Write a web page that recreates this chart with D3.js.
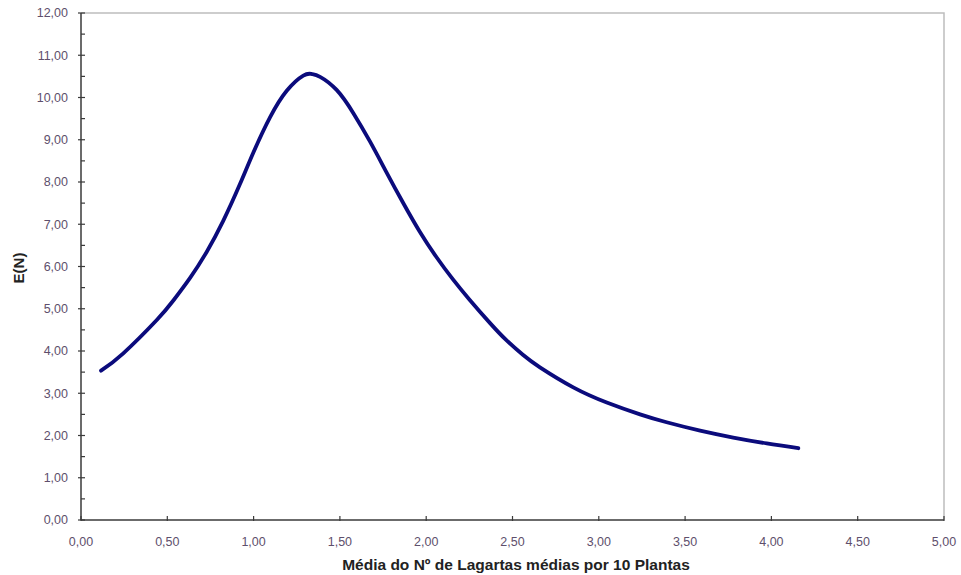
<!DOCTYPE html>
<html>
<head>
<meta charset="utf-8">
<script src="https://cdn.jsdelivr.net/npm/d3@7"></script>
<style>
  html, body { margin: 0; padding: 0; background: #fff; }
  svg { display: block; }
</style>
</head>
<body>
<svg id="chart" width="961" height="575"></svg>
<script>
// Data
const xValues = [0.116, 0.245, 0.439, 0.535, 0.632, 0.728, 0.824, 0.921, 1.000, 1.095, 1.192, 1.288, 1.337, 1.385, 1.481, 1.578, 1.674, 1.770, 1.866, 1.962, 2.058, 2.154, 2.250, 2.370, 2.466, 2.560, 2.659, 2.852, 3.046, 3.239, 3.393, 3.587, 3.779, 3.973, 4.156];
const yValues = [3.534, 3.946, 4.734, 5.195, 5.730, 6.345, 7.080, 7.950, 8.710, 9.530, 10.160, 10.520, 10.556, 10.490, 10.180, 9.630, 8.960, 8.230, 7.510, 6.830, 6.230, 5.700, 5.220, 4.660, 4.250, 3.910, 3.613, 3.140, 2.781, 2.501, 2.313, 2.115, 1.952, 1.812, 1.699];
const xTicks = [0, 0.5, 1, 1.5, 2, 2.5, 3, 3.5, 4, 4.5, 5];
const yTicks = [0, 1, 2, 3, 4, 5, 6, 7, 8, 9, 10, 11, 12];
const yMinorTicks = [0.5, 1.5, 2.5, 3.5, 4.5, 5.5, 6.5, 7.5, 8.5, 9.5, 10.5, 11.5];
const xTitle = "Média do Nº de Lagartas médias por 10 Plantas";
const yTitle = "E(N)";

(function () {
const svg = d3.select("#chart");
const mLeft = 81, mRight = 944, mTop = 13, mBottom = 520;

const x = d3.scaleLinear().domain([0, 5]).range([mLeft, mRight]);
const y = d3.scaleLinear().domain([0, 12]).range([mBottom, mTop]);
const fmt = v => v.toFixed(2).replace(".", ",");
const font = "Liberation Sans, Arial, sans-serif";

// top & right border (light gray)
svg.append("path")
  .attr("d", `M${mLeft},${mTop}H${mRight}V${mBottom}`)
  .attr("fill", "none").attr("stroke", "#bdbdbd").attr("stroke-width", 1.5);

// Y axis
const yAxis = svg.append("g").attr("transform", `translate(${mLeft},0)`);
yAxis.append("line").attr("x1", 0).attr("x2", 0).attr("y1", mTop).attr("y2", mBottom)
  .attr("stroke", "#3a3a3a").attr("stroke-width", 1.5);
yAxis.selectAll(".maj").data(yTicks).join("line").attr("class", "maj")
  .attr("x1", -3).attr("x2", 4).attr("y1", d => y(d)).attr("y2", d => y(d))
  .attr("stroke", "#3a3a3a").attr("stroke-width", 1.2);
yAxis.selectAll(".min").data(yMinorTicks).join("line").attr("class", "min")
  .attr("x1", 0).attr("x2", 4).attr("y1", d => y(d)).attr("y2", d => y(d))
  .attr("stroke", "#3a3a3a").attr("stroke-width", 1.2);
yAxis.selectAll("text").data(yTicks).join("text")
  .attr("x", -13).attr("y", d => y(d)).attr("dy", "0.35em")
  .attr("text-anchor", "end")
  .attr("font-family", font).attr("font-size", 12.5)
  .attr("fill", "#5e4f6c")
  .text(fmt);

// X axis
const xAxis = svg.append("g").attr("transform", `translate(0,${mBottom})`);
xAxis.append("line").attr("x1", mLeft).attr("x2", mRight).attr("y1", 0).attr("y2", 0)
  .attr("stroke", "#3a3a3a").attr("stroke-width", 1.5);
xAxis.selectAll(".maj").data(xTicks).join("line").attr("class", "maj")
  .attr("x1", d => x(d)).attr("x2", d => x(d)).attr("y1", -4).attr("y2", 1)
  .attr("stroke", "#3a3a3a").attr("stroke-width", 1.2);
xAxis.selectAll("text").data(xTicks).join("text")
  .attr("x", d => x(d)).attr("y", 26)
  .attr("text-anchor", "middle")
  .attr("font-family", font).attr("font-size", 12.5)
  .attr("fill", "#5e4f6c")
  .text(fmt);

// Titles
svg.append("text")
  .attr("x", 516).attr("y", 570)
  .attr("text-anchor", "middle")
  .attr("font-family", font).attr("font-size", 15.5)
  .attr("font-weight", "bold").attr("fill", "#222")
  .text(xTitle);
svg.append("text")
  .attr("transform", "translate(24,268) rotate(-90)")
  .attr("text-anchor", "middle")
  .attr("font-family", font).attr("font-size", 15)
  .attr("font-weight", "bold").attr("fill", "#222")
  .text(yTitle);

// Curve
const pts = xValues.map((v, i) => [v, yValues[i]]);
svg.append("path")
  .datum(pts)
  .attr("fill", "none")
  .attr("stroke", "#0b0b7c")
  .attr("stroke-width", 3.8)
  .attr("stroke-linecap", "round")
  .attr("stroke-linejoin", "round")
  .attr("d", d3.line().x(d => x(d[0])).y(d => y(d[1])).curve(d3.curveNatural));
})();
</script>
</body>
</html>
